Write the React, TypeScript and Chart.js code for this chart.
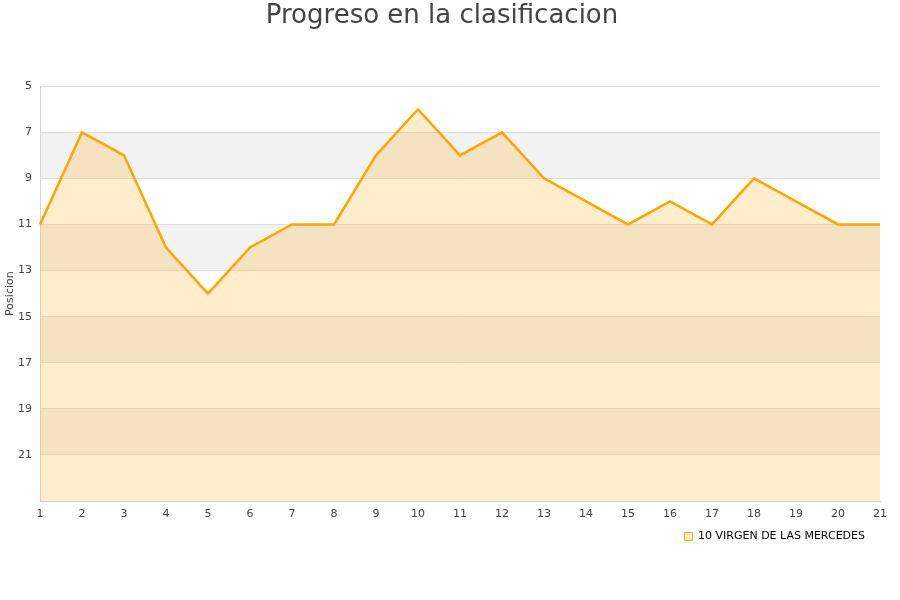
import React, { useEffect, useRef } from "react";
import { Chart, registerables } from "chart.js";

Chart.register(...registerables);

const jornadas = ["1","2","3","4","5","6","7","8","9","10","11","12","13","14","15","16","17","18","19","20","21"];
const posiciones = [11, 7, 8, 12, 14, 12, 11, 11, 8, 6, 8, 7, 9, 10, 11, 10, 11, 9, 10, 11, 11];
const seriesName = "10 VIRGEN DE LAS MERCEDES";
const chartTitle = "Progreso en la clasificacion";
const yTitle = "Posicion";

const bandPlugin = {
  id: "bands",
  beforeDraw(chart: any) {
    const { ctx, chartArea, scales } = chart;
    const y = scales.y;
    const ticks = y.ticks.map((t: any) => t.value);
    ctx.save();
    ctx.fillStyle = "#f2f2f2";
    for (let i = 1; i + 1 < ticks.length; i += 2) {
      const a = y.getPixelForValue(ticks[i]);
      const b = y.getPixelForValue(ticks[i + 1]);
      ctx.fillRect(chartArea.left, Math.min(a, b), chartArea.right - chartArea.left, Math.abs(b - a));
    }
    ctx.restore();
  },
};

const legendShiftPlugin = {
  id: "legendShift",
  afterLayout(chart: any) {
    const lg = chart.legend;
    if (lg) {
      lg.top -= 7;
      lg.bottom -= 7;
    }
  },
};

export default function App() {
  const ref = useRef<HTMLCanvasElement>(null);
  useEffect(() => {
    const chart = new Chart(ref.current!, {
      type: "line",
      data: {
        labels: jornadas,
        datasets: [
          {
            label: seriesName,
            data: posiciones,
            borderColor: "#ffa500",
            backgroundColor: "rgba(255,165,0,0.2)",
            borderWidth: 2.5,
            pointRadius: 0,
            tension: 0,
            fill: "start",
          },
        ],
      },
      options: {
        animation: false,
        responsive: false,
        maintainAspectRatio: false,
        layout: { padding: { left: 4, right: 20, top: 1, bottom: 41 } },
        plugins: {
          title: {
            display: true,
            text: chartTitle,
            color: "#444444",
            font: { family: "DejaVu Sans", size: 26, weight: "normal" },
            padding: { top: 0, bottom: 54 },
          },
          legend: {
            position: "bottom",
            align: "end",
            labels: {
              color: "#000000",
              font: { family: "DejaVu Sans", size: 11 },
              boxWidth: 8,
              boxHeight: 8,
              padding: 15,
              generateLabels: (chart: any) => {
                const items = Chart.defaults.plugins.legend.labels.generateLabels(chart);
                return items.map((it: any) => ({ ...it, lineWidth: 1 }));
              },
            },
          },
          tooltip: { enabled: false },
        },
        scales: {
          x: {
            grid: { display: false, drawTicks: false },
            border: { color: "#d6d6d6" },
            ticks: { color: "#444444", font: { family: "DejaVu Sans", size: 11 }, padding: 7, maxRotation: 0 },
            afterFit: (s: any) => { s.height = Math.max(22, s.height - 14); },
          },
          y: {
            reverse: true,
            min: 5,
            max: 23,
            grid: { color: "#dddddd", drawTicks: false },
            border: { color: "#d6d6d6" },
            title: { display: true, text: yTitle, color: "#444444", font: { family: "DejaVu Sans", size: 11 }, padding: 0 },
            ticks: {
              stepSize: 2,
              color: "#444444",
              font: { family: "DejaVu Sans", size: 11 },
              padding: 8,
              callback: (v: any) => (v === 23 ? "" : String(v)),
            },
            afterFit: (s: any) => { s.width = 36; },
          },
        },
      },
      plugins: [bandPlugin, legendShiftPlugin],
    });
    return () => chart.destroy();
  }, []);
  return (
    <div style={{ position: "absolute", left: 0, top: 0, width: 900, height: 600, background: "#fff" }}>
      <canvas ref={ref} width={900} height={600} style={{ width: 900, height: 600 }} />
    </div>
  );
}
